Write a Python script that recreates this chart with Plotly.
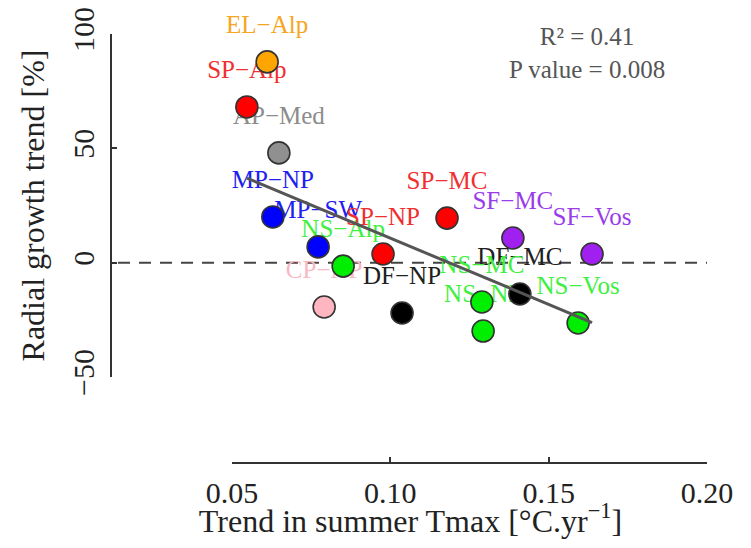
import plotly.graph_objects as go

# ---------------- data ----------------
sites = ["EL−Alp", "SP−Alp", "AP−Med", "MP−NP", "MP−SW", "NS−Alp", "SP−NP", "CP−NP",
         "DF−NP", "SP−MC", "SF−MC", "SF−Vos", "DF−MC", "NS−MC", "NS−NP", "NS−Vos"]
tmax_trend = [0.0611, 0.0547, 0.0648, 0.0629, 0.0772, 0.0851, 0.0977, 0.0791,
              0.1037, 0.1179, 0.1387, 0.1637, 0.1409, 0.1289, 0.1293, 0.1593]
growth_trend = [87.8, 68.1, 48.0, 20.0, 6.9, -1.5, 3.8, -19.4,
                -22.0, 19.5, 10.8, 3.8, -13.7, -17.2, -29.9, -26.4]
species = ["EL", "SP", "AP", "MP", "MP", "NS", "SP", "CP",
           "DF", "SP", "SF", "SF", "DF", "NS", "NS", "NS"]

trend_x = [0.0547, 0.1637]
trend_y = [37.0, -26.2]

x_ticks = [0.05, 0.10, 0.15, 0.20]
x_ticktext = ["0.05", "0.10", "0.15", "0.20"]
y_ticks = [-50, 0, 50, 100]
y_ticktext = ["−50", "0", "50", "100"]

stats_text = "R² = 0.41<br>P value = 0.008"

# ---------------- styles ----------------
point_colors = {"EL": "#FFA500", "SP": "#FF0000", "AP": "#909090", "MP": "#0000FF",
                "NS": "#00EE00", "CP": "#FFB6C1", "DF": "#000000", "SF": "#A020F0"}
label_colors = {"EL": "#F5A623", "SP": "#F03030", "AP": "#8C8C8C", "MP": "#2020F0",
                "NS": "#40F040", "CP": "#F8B8C4", "DF": "#202020", "SF": "#9A3CEB"}
FONT = "Liberation Serif"

W, H = 751, 548
L, R, T, B = 111, 41, 4, 85           # plot-area margins (px)
X05_PX, X20_PX = 232, 707              # pixel positions of x = 0.05 and 0.20
Y100_PX, YM50_PX = 34, 377             # pixel positions of y = 100 and -50
pw, ph = W - L - R, H - T - B

px_per_x = (X20_PX - X05_PX) / (x_ticks[-1] - x_ticks[0])
px_per_y = (YM50_PX - Y100_PX) / (y_ticks[-1] - y_ticks[0])
x_range = [x_ticks[0] - (X05_PX - L) / px_per_x, x_ticks[-1] + (W - R - X20_PX) / px_per_x]
y_range = [y_ticks[0] - (H - B - YM50_PX) / px_per_y, y_ticks[-1] + (Y100_PX - T) / px_per_y]
x2_domain = [(X05_PX - L) / pw, (X20_PX - L) / pw]
y2_domain = [(H - B - YM50_PX) / ph, (H - B - Y100_PX) / ph]
label_offset = 35 / px_per_y

fig = go.Figure()

# zero reference line
fig.add_trace(go.Scatter(x=[x_range[0] + 7 / px_per_x, x_range[1] - 3 / px_per_x], y=[0, 0],
                         mode="lines",
                         line=dict(color="#444444", width=2, dash="12px,9px"),
                         hoverinfo="skip", showlegend=False, cliponaxis=False))

# labels
fig.add_trace(go.Scatter(
    x=tmax_trend, y=[v + label_offset for v in growth_trend], mode="text",
    text=sites, textposition="middle center",
    textfont=dict(family=FONT, size=25, color=[label_colors[s] for s in species]),
    hoverinfo="skip", showlegend=False, cliponaxis=False))

# points
fig.add_trace(go.Scatter(
    x=tmax_trend, y=growth_trend, mode="markers",
    marker=dict(size=22, color=[point_colors[s] for s in species],
                line=dict(color="#333333", width=1.6)),
    text=sites, showlegend=False, cliponaxis=False))

# regression line
fig.add_trace(go.Scatter(x=trend_x, y=trend_y, mode="lines",
                         line=dict(color="#555555", width=3),
                         hoverinfo="skip", showlegend=False, cliponaxis=False))

# carrier trace for the R-style detached axes
fig.add_trace(go.Scatter(x=[], y=[], xaxis="x2", yaxis="y2", showlegend=False))

axis_font = dict(family=FONT, size=30, color="#222222")
fig.update_layout(
    width=W, height=H,
    margin=dict(l=L, r=R, t=T, b=B, autoexpand=False),
    paper_bgcolor="white", plot_bgcolor="rgba(0,0,0,0)",
    showlegend=False,
    xaxis=dict(range=x_range, visible=True, showline=False, showgrid=False, zeroline=False,
               showticklabels=False, ticks="", automargin=False,
               title=dict(text="Trend in summer Tmax [°C.yr<sup>−1</sup>]",
                          font=dict(family=FONT, size=32, color="#222222"), standoff=46)),
    yaxis=dict(range=y_range, visible=False, showgrid=False, zeroline=False, automargin=False),
    xaxis2=dict(domain=x2_domain, range=[x_ticks[0], x_ticks[-1]], anchor="free", position=0,
                showline=True, linecolor="#333333", linewidth=2, automargin=False,
                ticks="inside", ticklen=5, tickwidth=2, tickcolor="#333333",
                tickvals=x_ticks, ticktext=x_ticktext, tickfont=axis_font,
                ticklabelstandoff=3, showgrid=False, zeroline=False),
    yaxis2=dict(domain=y2_domain, range=[y_ticks[0], y_ticks[-1]], anchor="free", position=0,
                showline=True, linecolor="#333333", linewidth=2, automargin=False,
                ticks="inside", ticklen=5, tickwidth=2, tickcolor="#333333",
                tickvals=y_ticks, ticktext=y_ticktext, tickfont=axis_font, tickangle=-90,
                ticklabelstandoff=4, showgrid=False, zeroline=False,
                title=dict(text="Radial growth trend [%]",
                           font=dict(family=FONT, size=32, color="#222222"), standoff=12)),
    annotations=[dict(text=stats_text, xref="paper", yref="paper",
                      x=(587 - L) / pw, y=(H - B - 53) / ph, xanchor="center", yanchor="middle",
                      showarrow=False, align="center",
                      font=dict(family=FONT, size=25, color="#555555"))],
)

fig.write_html("out.html")
